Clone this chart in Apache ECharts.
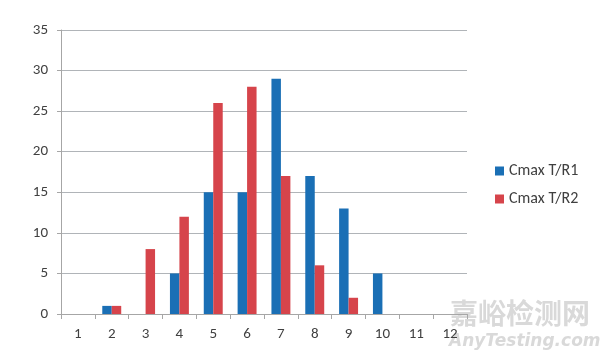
<!DOCTYPE html>
<html><head><meta charset="utf-8">
<script src="https://cdn.jsdelivr.net/npm/echarts@6/dist/echarts.min.js"></script>
<style>html,body{margin:0;padding:0;background:#fff}#c{width:600px;height:361px}</style>
</head><body><div id="c"></div>
<script>
const categories = ['1','2','3','4','5','6','7','8','9','10','11','12'];
const seriesR1 = [0,1,0,5,15,15,29,17,13,5,0,0];
const seriesR2 = [0,1,8,12,26,28,17,6,2,0,0,0];
const seriesNames = ['Cmax T/R1','Cmax T/R2'];
const chart = echarts.init(document.getElementById('c'), null, {renderer:'canvas'});
const font = 'Calibri, Carlito, Lato, "Liberation Sans", sans-serif';
chart.setOption({
  animation:false,
  grid:{left:61,right:133,top:30,bottom:47},
  legend:{
    orient:'vertical', left:490, top:158, itemWidth:9, itemHeight:9, itemGap:12,
    icon:'rect',
    textStyle:{color:'#404040',fontSize:16,fontFamily:font},
    data:seriesNames
  },
  xAxis:{
    type:'category', data:categories,
    axisLine:{lineStyle:{color:'#a6a6a6'}},
    axisTick:{show:true,length:5,lineStyle:{color:'#a6a6a6'}},
    axisLabel:{color:'#404040',fontSize:15,fontFamily:font,margin:13}
  },
  yAxis:{
    type:'value', min:0, max:35, interval:5,
    axisLine:{show:true,lineStyle:{color:'#a6a6a6'}},
    axisTick:{show:true,length:4,lineStyle:{color:'#a6a6a6'}},
    splitLine:{lineStyle:{color:'#b0b4b8',width:1}},
    axisLabel:{color:'#404040',fontSize:15,fontFamily:font,margin:13}
  },
  series:[
    {name:seriesNames[0],type:'bar',data:seriesR1,itemStyle:{color:'#1a6fb5'},barGap:'0%',barCategoryGap:'44%'},
    {name:seriesNames[1],type:'bar',data:seriesR2,itemStyle:{color:'#d6444b'},barGap:'0%',barCategoryGap:'44%'}
  ],
  graphic:[
    {type:'text',left:450,top:299,style:{text:'嘉峪检测网',fill:'#d9d9d9',font:'bold 28px "Noto Sans CJK SC", sans-serif'}},
    {type:'text',left:449,top:333,style:{text:'AnyTesting.com',fill:'#d9d9d9',font:'italic bold 17px "DejaVu Sans", sans-serif'}}
  ]
});
</script></body></html>
